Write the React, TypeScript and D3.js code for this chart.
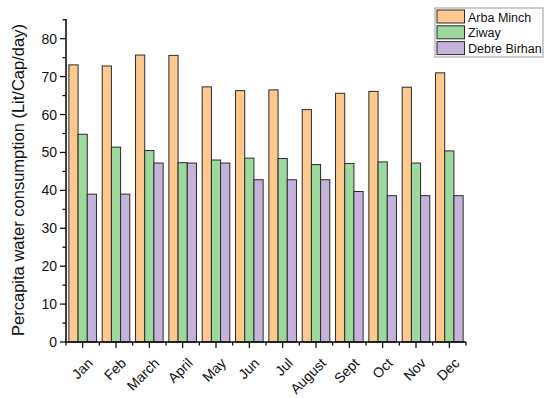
import { useEffect, useRef } from 'react';
import * as d3 from 'd3';

const months = ['Jan', 'Feb', 'March', 'April', 'May', 'Jun', 'Jul', 'August', 'Sept', 'Oct', 'Nov', 'Dec'];
const seriesNames = ['Arba Minch', 'Ziway', 'Debre Birhan'];
const arbaMinch = [73.1, 72.8, 75.7, 75.6, 67.3, 66.3, 66.5, 61.3, 65.6, 66.1, 67.2, 71.0];
const ziway = [54.8, 51.4, 50.5, 47.3, 48.0, 48.5, 48.4, 46.8, 47.1, 47.5, 47.2, 50.4];
const debreBirhan = [39.0, 39.0, 47.2, 47.2, 47.2, 42.8, 42.8, 42.8, 39.7, 38.6, 38.6, 38.6];
const yTicks = [0, 10, 20, 30, 40, 50, 60, 70, 80];
const colors = ['#fec98f', '#9dd89c', '#c6b3db'];

const W = 550;
const H = 398;
const margin = { left: 66, right: 84, top: 19, bottom: 56 };

function App() {
  const svgRef = useRef<SVGSVGElement>(null);

  useEffect(() => {
    if (svgRef.current === null) return;
    const svg = d3.select(svgRef.current);
    svg.selectAll('*').remove();

    const graphWidth = W - margin.left - margin.right;
    const graphHeight = H - margin.top - margin.bottom;
    const font = 'Arial, "Liberation Sans", sans-serif';

    const x = d3.scaleBand().domain(months).range([0, graphWidth]).padding(0);
    const inner = d3.scaleBand().domain(seriesNames).range([0, 27.6]);
    const y = d3.scaleLinear().domain([0, 85.2]).range([graphHeight, 0]);

    const body = svg.append('g').attr('transform', `translate(${margin.left},${margin.top})`);

    const all = [arbaMinch, ziway, debreBirhan];
    const offset = (x.bandwidth() - 27.6) / 2;

    months.forEach((m, i) => {
      seriesNames.forEach((s, j) => {
        const v = all[j][i];
        body.append('rect')
          .attr('x', (x(m) || 0) + offset + (inner(s) || 0))
          .attr('y', y(v))
          .attr('width', inner.bandwidth())
          .attr('height', graphHeight - y(v))
          .attr('fill', colors[j])
          .attr('stroke', '#2b2b2b')
          .attr('stroke-width', 1);
      });
    });

    // y axis
    const yAxis = body.append('g');
    yAxis.append('line')
      .attr('x1', 0).attr('x2', 0).attr('y1', 0).attr('y2', graphHeight)
      .attr('stroke', '#000').attr('stroke-width', 1.5);
    d3.range(0, 86, 5).forEach((t) => {
      const major = t % 10 === 0;
      yAxis.append('line')
        .attr('x1', 0).attr('x2', major ? -6 : -3.5)
        .attr('y1', y(t)).attr('y2', y(t))
        .attr('stroke', '#000').attr('stroke-width', 1.2);
    });
    yTicks.forEach((t) => {
      yAxis.append('text')
        .attr('x', -9).attr('y', y(t)).attr('dy', '0.36em')
        .attr('text-anchor', 'end')
        .attr('font-family', font).attr('font-size', 14)
        .attr('fill', '#111')
        .text(t);
    });

    // x axis
    const xAxis = body.append('g').attr('transform', `translate(0,${graphHeight})`);
    xAxis.append('line')
      .attr('x1', 0).attr('x2', graphWidth).attr('y1', 0).attr('y2', 0)
      .attr('stroke', '#000').attr('stroke-width', 1.5);
    months.forEach((m) => {
      const cx = (x(m) || 0) + x.bandwidth() / 2;
      xAxis.append('line')
        .attr('x1', cx).attr('x2', cx).attr('y1', 0).attr('y2', 6)
        .attr('stroke', '#000').attr('stroke-width', 1.2);
      xAxis.append('text')
        .attr('transform', `translate(${cx + 11},${22}) rotate(-45)`)
        .attr('text-anchor', 'end')
        .attr('font-family', font).attr('font-size', 14)
        .attr('fill', '#111')
        .text(m);
    });
    months.concat(['']).forEach((_, i) => {
      const bx = i * x.bandwidth();
      xAxis.append('line')
        .attr('x1', bx).attr('x2', bx).attr('y1', 0).attr('y2', 3.5)
        .attr('stroke', '#000').attr('stroke-width', 1.2);
    });

    // y label
    svg.append('text')
      .attr('transform', `translate(24,180) rotate(-90)`)
      .attr('text-anchor', 'middle')
      .attr('font-family', font).attr('font-size', 16.5)
      .attr('fill', '#111')
      .text('Percapita water consumption (Lit/Cap/day)');

    // legend
    const legend = svg.append('g').attr('transform', 'translate(435,8)');
    legend.append('rect')
      .attr('x', 0).attr('y', 0).attr('width', 108).attr('height', 49)
      .attr('fill', '#fff').attr('stroke', '#999').attr('stroke-width', 1);
    seriesNames.forEach((s, j) => {
      legend.append('rect')
        .attr('x', 2).attr('y', 2 + j * 15.8).attr('width', 27.5).attr('height', 13)
        .attr('fill', colors[j]).attr('stroke', '#2b2b2b').attr('stroke-width', 1);
      legend.append('text')
        .attr('x', 33).attr('y', 9 + j * 15.8).attr('dy', '0.36em')
        .attr('font-family', font).attr('font-size', 12.5)
        .attr('fill', '#111')
        .text(s);
    });
  }, []);

  return (
    <svg
      ref={svgRef}
      width={W}
      height={H}
      style={{ position: 'absolute', left: 0, top: 0, background: '#fff' }}
    />
  );
}

export default App;
